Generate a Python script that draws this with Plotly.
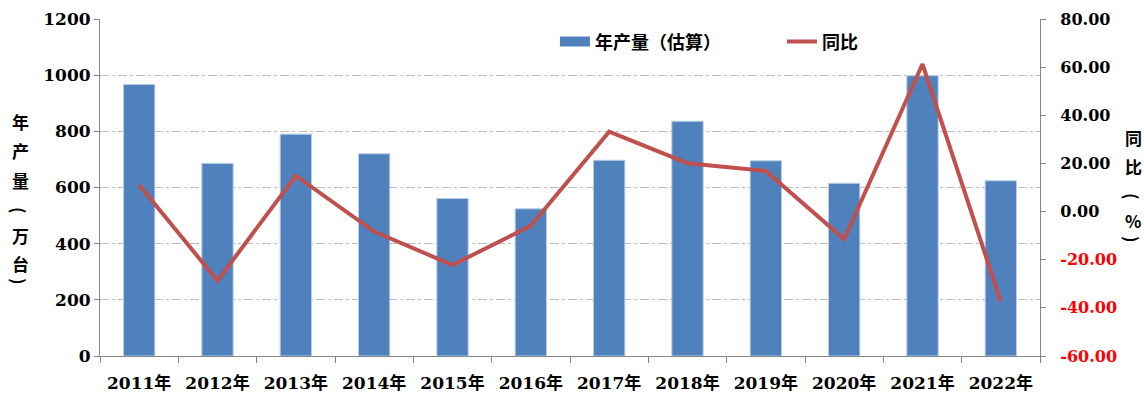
import plotly.graph_objects as go

years = ["2011年", "2012年", "2013年", "2014年", "2015年", "2016年",
         "2017年", "2018年", "2019年", "2020年", "2021年", "2022年"]
production = [967, 686, 790, 720, 561, 524, 697, 836, 695, 615, 998, 624]
yoy = [11.0, -28.7, 14.9, -8.3, -22.2, -5.9, 33.2, 20.1, 16.9, -11.5, 61.3, -37.4]

left_ticks = [0, 200, 400, 600, 800, 1000, 1200]
right_ticks = [-60, -40, -20, 0, 20, 40, 60, 80]
# (character, rotation) for the vertical axis titles
left_title = [("年", 0), ("产", 0), ("量", 0), ("(", 90), ("万", 0), ("台", 0), (")", 90)]
right_title = [("同", 0), ("比", 0), ("(", 90), ("%", 0), (")", 90)]

BLUE = "#4F81BD"
RED = "#C0504D"
NUM_FONT = "DejaVu Serif, Noto Sans CJK SC"
CJK_FONT = "Noto Sans CJK SC"

fig = go.Figure()
fig.add_trace(go.Bar(
    x=years, y=production, name="年产量（估算）",
    marker=dict(color=BLUE, line=dict(color="#B9CDE5", width=1)),
    showlegend=False, yaxis="y",
))
fig.add_trace(go.Scatter(
    x=[None], y=[None], mode="lines", name="年产量（估算）",
    line=dict(color=BLUE, width=10), yaxis="y",
))
fig.add_trace(go.Scatter(
    x=years, y=yoy, name="同比", mode="lines",
    line=dict(color=RED, width=4), yaxis="y2",
))

# invisible spacer pushes the right-axis labels away from the axis line
PAD = '<span style="color:rgba(0,0,0,0)">0</span>'
right_text = [
    (PAD + f'<span style="color:#FF0000">{v:.2f}</span>' if v < 0 else PAD + f"{v:.2f}")
    for v in right_ticks
]

fig.update_layout(
    width=1144, height=400,
    margin=dict(l=100, r=104, t=19, b=44),
    paper_bgcolor="white", plot_bgcolor="white",
    bargap=0.6,
    showlegend=True,
    legend=dict(
        orientation="h", x=0.484, xanchor="left", y=0.932, yanchor="middle",
        font=dict(family=CJK_FONT, size=18, color="black", weight="bold"),
        bgcolor="rgba(0,0,0,0)", entrywidth=182, entrywidthmode="pixels",
    ),
    xaxis=dict(
        type="category", showline=True, linecolor="#868686", linewidth=1,
        ticks="outside", tickson="boundaries", ticklen=6, tickcolor="#868686",
        tickfont=dict(family=NUM_FONT, size=17, color="black", weight="bold"),
        showgrid=False, automargin=False, ticklabelstandoff=12,
    ),
    yaxis=dict(
        range=[0, 1200], tickvals=left_ticks,
        showline=True, linecolor="#868686", linewidth=1,
        ticks="outside", ticklen=5, tickcolor="#868686",
        tickfont=dict(family=NUM_FONT, size=17, color="black", weight="bold"),
        showgrid=True, gridcolor="#BFBFBF", griddash="dashdot", gridwidth=1,
        zeroline=False, automargin=False,
    ),
    yaxis2=dict(
        range=[-60, 80], tickvals=right_ticks, ticktext=right_text,
        overlaying="y", side="right",
        showline=True, linecolor="#868686", linewidth=1,
        ticks="outside", ticklen=5, tickcolor="#868686",
        tickfont=dict(family=NUM_FONT, size=16, color="black", weight="bold"),
        showgrid=False, zeroline=False, automargin=False,
    ),
)

PL, PT, PW, PH = 100, 19, 940, 337


def add_vertical_title(chars, px, ys):
    for (ch, ang), py in zip(chars, ys):
        fig.add_annotation(
            x=(px - PL) / PW, y=1 - (py - PT) / PH, xref="paper", yref="paper",
            text=ch, showarrow=False, textangle=ang,
            font=dict(family=CJK_FONT, size=17, color="black", weight="bold"),
            xanchor="center", yanchor="middle",
        )


add_vertical_title(left_title, 20, [121, 150, 181, 210, 235, 263, 281])
add_vertical_title(right_title, 1133, [137, 166, 196, 220, 239])

fig.write_html("out.html")
